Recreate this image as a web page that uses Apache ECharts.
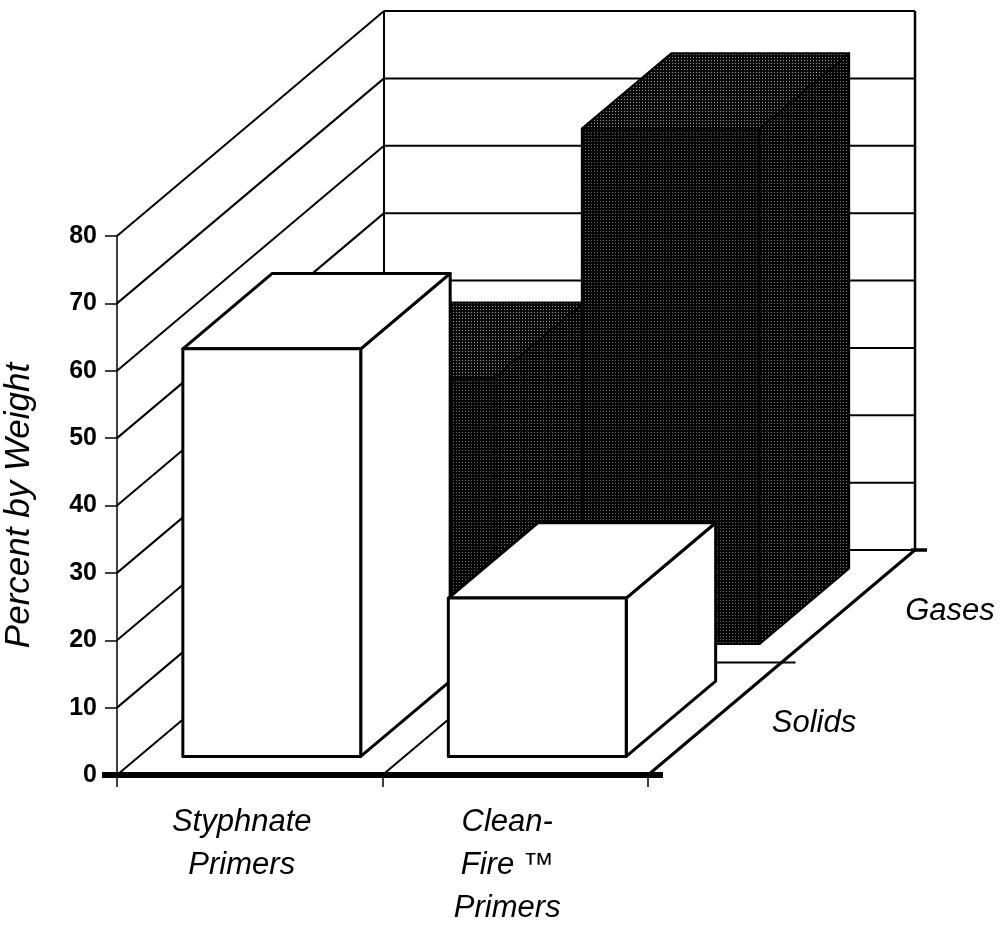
<!DOCTYPE html>
<html>
<head>
<meta charset="utf-8">
<script src="https://cdn.jsdelivr.net/npm/echarts@6/dist/echarts.min.js"></script>
<style>
  html, body { margin: 0; background: #fff; }
  #chart { width: 1002px; height: 928px; }
</style>
</head>
<body>
<div id="chart"></div>
<script>
// data
const categories = ["Styphnate\nPrimers", "Clean-\nFire \u2122\nPrimers"];
const rows = ["Solids", "Gases"];
const solids = [60.5, 23.5];
const gases = [39.5, 76.5];
const yMin = 0;
const yMax = 80;
const yStep = 10;

// oblique projection: one row of depth moves this many px right / up
const DEPTH = [133.5, -112.5];
const BOX = 0.67; // share of a cell filled by a box (width and depth)
const TEXT_FONT = "Liberation Sans, Arial, sans-serif";

function stipple(base, dot, step) {
  const c = document.createElement("canvas");
  c.width = c.height = step;
  const g = c.getContext("2d");
  g.fillStyle = base;
  g.fillRect(0, 0, step, step);
  g.fillStyle = dot;
  g.fillRect(0, 0, 1, 1);
  return { image: c, repeat: "repeat" };
}

const whiteFaces = { front: "#fff", top: "#fff", side: "#fff", stroke: "#000", width: 3 };
const darkFaces = {
  front: stipple("#050505", "#666", 3),
  top: stipple("#080808", "#9a9a9a", 3),
  side: stipple("#050505", "#7a7a7a", 3),
  stroke: "#000",
  width: 2
};

function boxItem(row, faces) {
  return function (params, api) {
    const cat = api.value(0);
    const v = api.value(1);
    const bw = api.size([1, 0])[0];
    const c0 = api.coord([cat, 0]);
    const c1 = api.coord([cat, v]);
    const half = (bw * BOX) / 2;
    const d0 = row + (1 - BOX) / 2;
    const d1 = row + (1 + BOX) / 2;
    const p = (x, y, d) => [x + d * DEPTH[0], y + d * DEPTH[1]];
    const xl = c0[0] - half, xr = c0[0] + half, yb = c0[1], yt = c1[1];
    const st = (fill) => ({ fill: fill, stroke: faces.stroke, lineWidth: faces.width, lineJoin: "round" });
    return {
      type: "group",
      children: [
        { type: "polygon", shape: { points: [p(xr, yb, d0), p(xr, yb, d1), p(xr, yt, d1), p(xr, yt, d0)] }, style: st(faces.side) },
        { type: "polygon", shape: { points: [p(xl, yt, d0), p(xr, yt, d0), p(xr, yt, d1), p(xl, yt, d1)] }, style: st(faces.top) },
        { type: "polygon", shape: { points: [p(xl, yb, d0), p(xr, yb, d0), p(xr, yt, d0), p(xl, yt, d0)] }, style: st(faces.front) }
      ]
    };
  };
}

function renderFrame(params, api) {
  const bw = api.size([1, 0])[0];
  const n = categories.length;
  const xL = api.coord([0, yMin])[0] - bw / 2;
  const xR = api.coord([n - 1, yMin])[0] + bw / 2;
  const y0 = api.coord([0, yMin])[1];
  const yT = api.coord([0, yMax])[1];
  const bx = DEPTH[0] * rows.length, by = DEPTH[1] * rows.length;
  const out = [];
  const line = (x1, y1, x2, y2, w) =>
    out.push({ type: "line", shape: { x1: x1, y1: y1, x2: x2, y2: y2 }, style: { stroke: "#000", lineWidth: w } });

  // left wall and back wall grid
  for (let v = yMin; v <= yMax; v += yStep) {
    const y = api.coord([0, v])[1];
    line(xL, y, xL + bx, y + by, 2);
    line(xL + bx, y + by, xR + bx, y + by, 2);
  }
  line(xL + bx, y0 + by, xL + bx, yT + by, 2);
  line(xR + bx, y0 + by, xR + bx, yT + by, 2.5);

  // floor: lines running back from each category boundary
  for (let i = 1; i <= n; i++) {
    const x = xL + i * bw;
    line(x, y0, x + bx, y0 + by, i === n ? 3 : 2);
  }
  // floor: row boundaries, with a short tick past the right edge
  for (let r = 1; r <= rows.length; r++) {
    const dx = DEPTH[0] * r, dy = DEPTH[1] * r;
    if (r < rows.length) line(xL + dx, y0 + dy, xR + dx + 14, y0 + dy, 2);
    else line(xR + dx - 4, y0 + dy, xR + dx + 12, y0 + dy, 3.5);
  }

  // row names beside the right floor edge
  rows.forEach(function (name, r) {
    out.push({
      type: "text",
      x: xR + DEPTH[0] * (r + 0.5) + 57,
      y: y0 + DEPTH[1] * (r + 0.5) + 5,
      style: {
        text: name,
        fill: "#000",
        font: "italic 31px " + TEXT_FONT,
        align: "left",
        verticalAlign: "middle"
      }
    });
  });
  return { type: "group", children: out };
}

function renderFloorFront(params, api) {
  const bw = api.size([1, 0])[0];
  const n = categories.length;
  const xL = api.coord([0, yMin])[0] - bw / 2;
  const xR = api.coord([n - 1, yMin])[0] + bw / 2;
  const y0 = api.coord([0, yMin])[1];
  return {
    type: "line",
    shape: { x1: xL - 15, y1: y0, x2: xR + 15, y2: y0 },
    style: { stroke: "#000", lineWidth: 6 }
  };
}

const chart = echarts.init(document.getElementById("chart"));
chart.setOption({
  animation: false,
  backgroundColor: "#fff",
  grid: { left: 117, top: 236, width: 531, height: 539, containLabel: false, outerBoundsMode: "none" },
  xAxis: {
    type: "category",
    data: categories,
    boundaryGap: true,
    axisLine: { show: false },
    axisTick: { show: true, length: 12, lineStyle: { color: "#000", width: 1.5 } },
    axisLabel: {
      color: "#000",
      fontFamily: TEXT_FONT,
      fontStyle: "italic",
      fontSize: 31,
      lineHeight: 43,
      margin: 26,
      padding: [0, 16, 0, 0]
    },
    splitLine: { show: false }
  },
  yAxis: {
    type: "value",
    min: yMin,
    max: yMax,
    interval: yStep,
    name: "Percent by Weight",
    nameLocation: "middle",
    nameGap: 80,
    nameTextStyle: { color: "#000", fontFamily: TEXT_FONT, fontStyle: "italic", fontSize: 35 },
    axisLine: { show: true, lineStyle: { color: "#000", width: 1.5 } },
    axisTick: { show: true, length: 12, lineStyle: { color: "#000", width: 1.5 } },
    axisLabel: { color: "#000", fontFamily: TEXT_FONT, fontWeight: "bold", fontSize: 25, margin: 20 },
    splitLine: { show: false }
  },
  series: [
    { name: "frame", type: "custom", silent: true, renderItem: renderFrame, data: [[0, 0]], z: 1 },
    {
      name: rows[1],
      type: "custom",
      renderItem: boxItem(1, darkFaces),
      data: gases.map((v, i) => [i, v]),
      z: 2
    },
    {
      name: rows[0],
      type: "custom",
      renderItem: boxItem(0, whiteFaces),
      data: solids.map((v, i) => [i, v]),
      z: 3
    },
    { name: "floor", type: "custom", silent: true, renderItem: renderFloorFront, data: [[0, 0]], z: 4 }
  ]
});
</script>
</body>
</html>
